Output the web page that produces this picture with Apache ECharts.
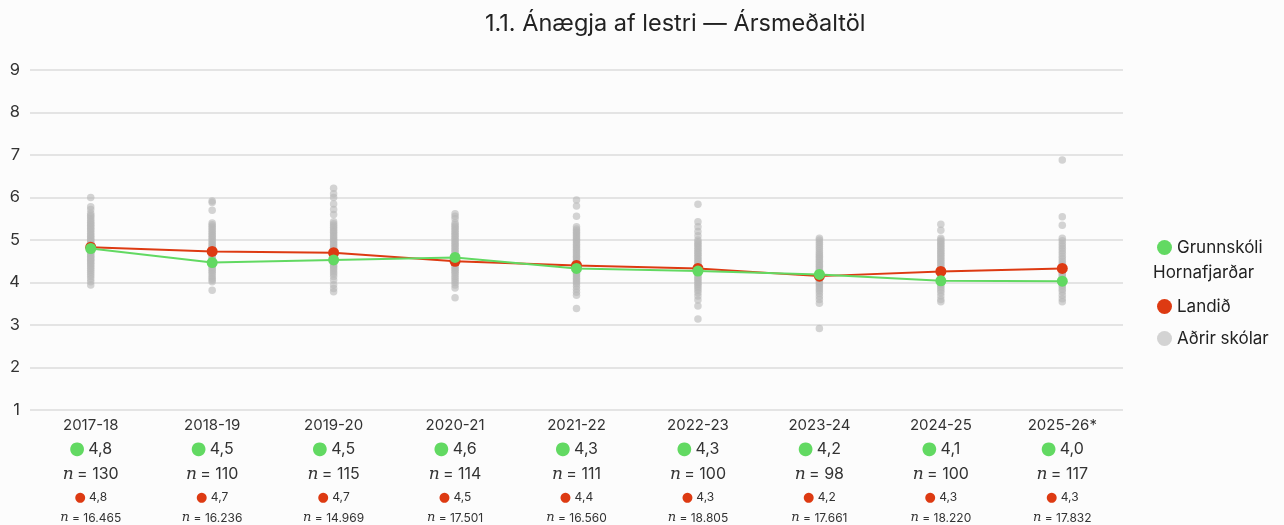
<!DOCTYPE html>
<html><head><meta charset="utf-8">
<script src="https://cdn.jsdelivr.net/npm/echarts@6/dist/echarts.min.js"></script>
<style>html,body{margin:0;padding:0;background:#fcfcfc}#c{width:1284px;height:525px}</style>
</head><body><div id="c"></div>
<script>
const title = '1.1. Ánægja af lestri — Ársmeðaltöl';
const years = ['2017-18','2018-19','2019-20','2020-21','2021-22','2022-23','2023-24','2024-25','2025-26*'];
const schoolName = 'Grunnskóli Hornafjarðar';
const schoolValues = [4.80, 4.47, 4.53, 4.59, 4.33, 4.27, 4.19, 4.04, 4.03];
const schoolLabels = ['4,8','4,5','4,5','4,6','4,3','4,3','4,2','4,1','4,0'];
const schoolN = ['130','110','115','114','111','100','98','100','117'];
const nationName = 'Landið';
const nationValues = [4.83, 4.73, 4.70, 4.50, 4.40, 4.33, 4.15, 4.26, 4.33];
const nationLabels = ['4,8','4,7','4,7','4,5','4,4','4,3','4,2','4,3','4,3'];
const nationN = ['16.465','16.236','14.969','17.501','16.560','18.805','17.661','18.220','17.832'];
const othersName = 'Aðrir skólar';
const others1718 = [6.0,5.78,5.72,5.63,5.58,5.55,5.5,5.46,5.42,5.38,5.35,5.31,5.27,5.24,5.2,5.16,5.12,5.09,5.05,5.02,4.98,4.95,4.92,4.88,4.85,4.83,4.8,4.77,4.74,4.71,4.68,4.65,4.62,4.58,4.55,4.52,4.48,4.45,4.41,4.37,4.33,4.29,4.24,4.19,4.14,4.08,4.02,3.94];
const others1819 = [5.92,5.88,5.7,5.4,5.36,5.32,5.28,5.24,5.2,5.16,5.12,5.08,5.04,5.0,4.96,4.92,4.88,4.85,4.82,4.78,4.75,4.72,4.68,4.65,4.62,4.58,4.55,4.52,4.48,4.44,4.4,4.36,4.32,4.28,4.24,4.2,4.15,4.1,4.06,4.02,3.82];
const others1920 = [6.22,6.09,6.0,5.85,5.72,5.6,5.43,5.38,5.34,5.3,5.26,5.22,5.18,5.14,5.1,5.06,5.02,4.98,4.94,4.9,4.86,4.82,4.78,4.74,4.7,4.66,4.62,4.58,4.54,4.5,4.46,4.42,4.38,4.34,4.3,4.25,4.2,4.14,4.06,3.95,3.86,3.78];
const others2021 = [5.62,5.56,5.5,5.4,5.36,5.32,5.28,5.24,5.2,5.16,5.12,5.08,5.04,5.0,4.96,4.92,4.88,4.84,4.8,4.76,4.72,4.68,4.64,4.6,4.56,4.52,4.48,4.44,4.4,4.36,4.32,4.28,4.24,4.2,4.15,4.1,4.05,4.0,3.94,3.87,3.64];
const others2122 = [5.94,5.8,5.56,5.31,5.26,5.22,5.18,5.14,5.1,5.06,5.02,4.98,4.94,4.9,4.86,4.82,4.78,4.74,4.7,4.66,4.62,4.58,4.54,4.5,4.46,4.42,4.38,4.34,4.3,4.26,4.22,4.18,4.14,4.1,4.06,4.02,3.97,3.91,3.84,3.77,3.7,3.39];
const others2223 = [5.84,5.43,5.31,5.2,5.1,5.0,4.96,4.92,4.88,4.84,4.8,4.76,4.72,4.68,4.64,4.6,4.56,4.52,4.48,4.44,4.4,4.36,4.32,4.28,4.24,4.2,4.16,4.12,4.08,4.04,4.0,3.96,3.92,3.87,3.82,3.76,3.68,3.59,3.45,3.14];
const others2324 = [5.04,5.0,4.95,4.9,4.85,4.8,4.75,4.7,4.66,4.62,4.58,4.54,4.5,4.46,4.42,4.38,4.34,4.3,4.26,4.22,4.18,4.14,4.1,4.06,4.02,3.98,3.94,3.9,3.85,3.8,3.74,3.67,3.6,3.51,2.92];
const others2425 = [5.37,5.23,5.04,5.0,4.96,4.92,4.88,4.84,4.8,4.76,4.72,4.68,4.64,4.6,4.56,4.52,4.48,4.44,4.4,4.36,4.32,4.28,4.24,4.2,4.16,4.12,4.08,4.04,4.0,3.96,3.92,3.87,3.82,3.76,3.68,3.6,3.55];
const others2526 = [6.88,5.55,5.35,5.04,4.98,4.92,4.86,4.8,4.74,4.68,4.62,4.56,4.5,4.45,4.4,4.35,4.3,4.26,4.22,4.18,4.14,4.1,4.06,4.02,3.98,3.94,3.9,3.84,3.78,3.7,3.62,3.55];
const othersByYear = [others1718,others1819,others1920,others2021,others2122,others2223,others2324,others2425,others2526];
const yTicks = [1,2,3,4,5,6,7,8,9];

const GREEN = '#62d962', RED = '#dd3a12', GREY = '#b8b8b8';
const FONT = 'Inter, "Noto Sans", sans-serif';

const otherData = [];
othersByYear.forEach((arr, i) => arr.forEach(v => otherData.push([years[i], v])));

const chart = echarts.init(document.getElementById('c'), null, {renderer: 'canvas'});
chart.setOption({
  backgroundColor: '#fcfcfc',
  animation: false,
  textStyle: {fontFamily: FONT},
  title: {text: title, left: 480, top: 7, textStyle: {fontFamily: FONT, fontSize: 23.5, fontWeight: 'normal', color: '#222'}},
  grid: {left: 30, right: 161, top: 70, bottom: 115, containLabel: false},
  legend: {
    orient: 'vertical', left: 1152, top: 202, itemWidth: 15, itemHeight: 15, itemGap: 5, icon: 'circle',
    textStyle: {fontSize: 17, color: '#222', fontFamily: FONT, lineHeight: 27},
    formatter: n => n === schoolName ? ' \nGrunnskóli\n ' : n,
    data: [schoolName, nationName, othersName]
  },
  graphic: [{
    type: 'text', left: 1153, top: 264,
    style: {text: 'Hornafjarðar', font: '17px Inter, "Noto Sans", sans-serif', fill: '#222'}
  }],
  xAxis: {
    type: 'category', data: years, boundaryGap: true,
    axisLine: {show: false}, axisTick: {show: false},
    axisLabel: {
      interval: 0, margin: 4, align: 'center',
      formatter: (v, i) => '{yr|' + v + '}\n{gd|●} {gv|' + schoolLabels[i] + '}\n{ni|n} {gv|= ' + schoolN[i] + '}\n{rd|●} {rv|' + nationLabels[i] + '}\n{ni2|n} {rv|= ' + nationN[i] + '}',
      rich: {
        yr: {fontSize: 15, color: '#333', lineHeight: 22, fontFamily: FONT},
        gd: {fontSize: 18, color: GREEN, lineHeight: 26, fontFamily: 'DejaVu Sans'},
        gv: {fontSize: 16, color: '#333', lineHeight: 25, fontFamily: FONT},
        ni: {fontSize: 17, color: '#333', lineHeight: 24, fontStyle: 'italic', fontFamily: 'DejaVu Serif'},
        rd: {fontSize: 13, color: RED, lineHeight: 21, fontFamily: 'DejaVu Sans'},
        rv: {fontSize: 12, color: '#333', lineHeight: 20, fontFamily: FONT},
        ni2: {fontSize: 13, color: '#333', lineHeight: 20, fontStyle: 'italic', fontFamily: 'DejaVu Serif'}
      }
    }
  },
  yAxis: {
    type: 'value', min: 1, max: 9, interval: 1,
    axisLine: {show: false}, axisTick: {show: false},
    axisLabel: {fontSize: 16.5, color: '#333', margin: 10, fontFamily: FONT, formatter: v => yTicks.includes(v) ? String(v) : ''},
    splitLine: {lineStyle: {color: '#dcdcdc', width: 1.5}}
  },
  series: [
    {name: othersName, type: 'scatter', data: otherData, symbolSize: 7.5, itemStyle: {color: GREY, opacity: 0.6}, z: 1},
    {name: nationName, type: 'line', data: nationValues, symbol: 'circle', symbolSize: 11, lineStyle: {color: RED, width: 2}, itemStyle: {color: RED}, z: 2},
    {name: schoolName, type: 'line', data: schoolValues, symbol: 'circle', symbolSize: 11, lineStyle: {color: GREEN, width: 2}, itemStyle: {color: GREEN}, z: 3}
  ]
});
</script></body></html>
